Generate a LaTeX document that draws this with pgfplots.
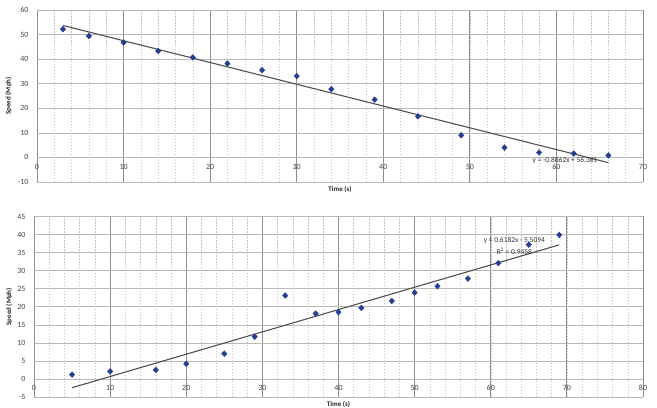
\documentclass[border=0pt]{standalone}
\usepackage{pgfplots}
\pgfplotsset{compat=1.18}
\usepackage{fontspec}
\setmainfont{Carlito}

\definecolor{markblue}{RGB}{38,64,145}
\definecolor{trend}{RGB}{80,80,80}
\definecolor{vmajor}{RGB}{140,140,140}
\definecolor{hmajor}{RGB}{185,185,185}
\definecolor{vminor}{RGB}{195,195,195}
\definecolor{ticktext}{RGB}{70,70,70}

\pgfplotsset{
  speedaxis/.style={
    scale only axis,
    anchor=south west,
    axis x line*=middle,
    axis y line*=left,
    axis line style={draw=none},
    tick style={draw=none},
    hide obscured x ticks=false,
    hide obscured y ticks=false,
    /pgf/number format/assume math mode=true,
    ticklabel style={font=\fontsize{8}{9}\selectfont, text=ticktext},
    yticklabel style={xshift=-5bp},
    xticklabel style={yshift=-3bp},
    grid=both,
    minor ytick={},
    major x grid style={color=vmajor, line width=0.8pt},
    major y grid style={color=hmajor, line width=0.6pt},
    minor x grid style={color=vminor, line width=0.5pt, dash pattern=on 1.5pt off 1.5pt},
    xlabel={\textbf{Time (s)}},
    ylabel={\textbf{Speed (Mph)}},
    label style={font=\fontsize{7}{8}\selectfont, text=black!85},
    xlabel style={at={(axis description cs:0.5,0)}, anchor=north, yshift=-1bp},
    clip=false,
  },
  pts/.style={only marks, mark=diamond*, mark size=2.9pt,
    mark options={draw=markblue, fill=markblue, xscale=1.25}},
  fit/.style={trend, line width=1.1pt, no marks},
}

\begin{document}
\begin{tikzpicture}
\useasboundingbox (0,0) rectangle (657bp,408bp);

% Deceleration run
\begin{axis}[speedaxis,
  at={(37bp,226bp)}, width=606bp, height=172bp,
  xmin=0, xmax=70, ymin=-10, ymax=60,
  xtick={0,10,...,70}, ytick={-10,0,...,60},
  minor xtick={2,4,...,68},
  ylabel style={at={(axis description cs:-0.047,0.5)}, anchor=center},
]
\addplot[pts] coordinates {
  (3,52.2) (6,49.4) (10,46.8) (14,43.3) (18,40.7) (22,38.2) (26,35.5)
  (30,33.1) (34,27.8) (39,23.5) (44,16.7) (49,9.0) (54,4.0) (58,2.0)
  (62,1.6) (66,0.8)
};
\addplot[fit] coordinates {(3,53.7024) (66,-2.1282)};
\node[font=\fontsize{7.5}{8}\selectfont, text=black!80] at (axis cs:61,-1.3) {y = -0.8862x + 56.361};
\end{axis}

% Acceleration run
\begin{axis}[speedaxis,
  at={(34bp,11bp)}, width=609bp, height=180.5bp,
  xmin=0, xmax=80, ymin=-5, ymax=45,
  xtick={0,10,...,80}, ytick={-5,0,...,45},
  minor xtick={2,4,...,78},
  ylabel style={at={(axis description cs:-0.041,0.5)}, anchor=center},
]
\addplot[pts] coordinates {
  (5,1.2) (10,2.1) (16,2.5) (20,4.2) (25,7.0) (29,11.7) (33,23.1)
  (37,18.1) (40,18.5) (43,19.7) (47,21.6) (50,23.9) (53,25.7)
  (57,27.8) (61,32.1) (65,37.2) (69,39.9)
};
\addplot[fit] coordinates {(5,-2.4184) (69,37.1464)};
\node[font=\fontsize{7.5}{8}\selectfont, text=black!80] at (axis cs:63.1,38.4) {y = 0.6182x - 5.5094};
\node[font=\fontsize{7.5}{8}\selectfont, text=black!80] at (axis cs:63.1,35.4) {R\textsuperscript{2} = 0.9458};
\end{axis}
\end{tikzpicture}
\end{document}
